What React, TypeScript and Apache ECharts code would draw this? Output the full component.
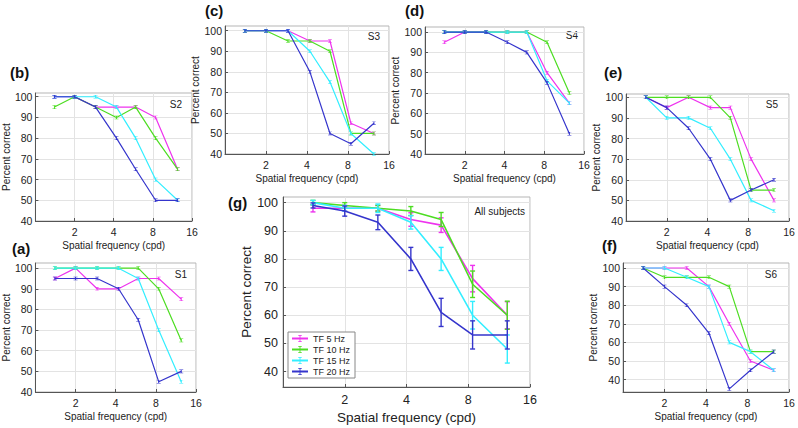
import React, { useEffect, useRef } from 'react';
import * as echarts from 'echarts';

// Spatial frequencies (cpd) of the tested gratings
const SF = [1.4, 2, 2.9, 4.2, 5.9, 8.4, 12.4];
const Y_TICKS = [40, 50, 60, 70, 80, 90, 100];
const TF_NAMES = ['TF 5 Hz', 'TF 10 Hz', 'TF 15 Hz', 'TF 20 Hz'];
const TF_COLORS = ['#ee33ee', '#4ddd22', '#33eeff', '#3535cc'];

// (a) S1
const S1_TF5 = [95, 100, 90, 90, 95, 95, 85];
const S1_TF10 = [100, 100, 100, 100, 100, 90, 65];
const S1_TF15 = [100, 100, 100, 100, 95, 70, 45];
const S1_TF20 = [95, 95, 95, 90, 75, 45, 50];
// (b) S2
const S2_TF5 = [100, 100, 95, 95, 95, 90, 65];
const S2_TF10 = [95, 100, 95, 90, 95, 80, 65];
const S2_TF15 = [100, 100, 100, 95, 80, 60, 50];
const S2_TF20 = [100, 100, 95, 80, 65, 50, 50];
// (c) S3
const S3_TF5 = [100, 100, 100, 95, 95, 55, 50];
const S3_TF10 = [100, 100, 95, 95, 90, 50, 50];
const S3_TF15 = [100, 100, 100, 90, 75, 50, 40];
const S3_TF20 = [100, 100, 100, 80, 50, 45, 55];
// (d) S4
const S4_TF5 = [95, 100, 100, 100, 100, 80, 65];
const S4_TF10 = [100, 100, 100, 100, 100, 95, 70];
const S4_TF15 = [100, 100, 100, 100, 100, 76, 65];
const S4_TF20 = [100, 100, 100, 95, 90, 75, 50];
// (e) S5
const S5_TF5 = [100, 95, 100, 95, 95, 70, 50];
const S5_TF10 = [100, 100, 100, 100, 90, 55, 55];
const S5_TF15 = [100, 90, 90, 85, 70, 50, 45];
const S5_TF20 = [100, 95, 85, 70, 50, 55, 60];
// (f) S6
const S6_TF5 = [100, 100, 100, 90, 70, 50, 45];
const S6_TF10 = [100, 95, 95, 95, 90, 55, 55];
const S6_TF15 = [100, 100, 95, 90, 60, 55, 45];
const S6_TF20 = [100, 90, 80, 65, 35, 45, 55];
// (g) All subjects: means and error-bar half-lengths
const ALL_TF5 = [98, 98, 98, 94, 92, 73, 60];
const ALL_TF10 = [100, 99, 98, 97, 94, 71, 60];
const ALL_TF15 = [100, 98, 98, 93, 80, 60, 48];
const ALL_TF20 = [99, 97, 93, 80, 61, 53, 53];
const ALL_TF5_ERR = [1.3, 1, 1, 2.4, 2.6, 4.7, 4.8];
const ALL_TF10_ERR = [0.8, 1, 1, 1.6, 2.5, 4.7, 5];
const ALL_TF15_ERR = [0.8, 1, 1.5, 2.4, 4.1, 4.9, 5];
const ALL_TF20_ERR = [0.9, 1.8, 2.6, 4.1, 5, 5, 5];

const FONT = '"Liberation Sans", Arial, Helvetica, sans-serif';
const TEXT = '#222';
const I_BEAM = 'path://M0,0 M10,10 M2.5,0 h5 v1.3 h-5 z M4.4,1.3 h1.2 v7.4 h-1.2 z M2.5,8.7 h5 v1.3 h-5 z';

type Panel = {
  letter: string;
  subj: string;
  data: number[][];
  err?: number[][];
  rect: [number, number, number, number];
  y: [number, number];
  letterPos: [number, number];
  subjPos: [number, number];
  big?: boolean;
};

const PANELS: Panel[] = [
  { letter: '(a)', subj: 'S1', data: [S1_TF5, S1_TF10, S1_TF15, S1_TF20], rect: [33, 263, 163, 129], y: [40, 102.5], letterPos: [12, 248], subjPos: [187, 274] },
  { letter: '(b)', subj: 'S2', data: [S2_TF5, S2_TF10, S2_TF15, S2_TF20], rect: [30, 93, 162, 128], y: [40, 101.8], letterPos: [10, 72], subjPos: [182, 104] },
  { letter: '(c)', subj: 'S3', data: [S3_TF5, S3_TF10, S3_TF15, S3_TF20], rect: [225, 26, 164, 128], y: [40, 102.3], letterPos: [205, 10], subjPos: [380, 36] },
  { letter: '(d)', subj: 'S4', data: [S4_TF5, S4_TF10, S4_TF15, S4_TF20], rect: [425, 27, 159, 127], y: [40, 102.5], letterPos: [405, 10], subjPos: [578, 35] },
  { letter: '(e)', subj: 'S5', data: [S5_TF5, S5_TF10, S5_TF15, S5_TF20], rect: [626, 94, 163, 127], y: [40, 101.6], letterPos: [604, 72], subjPos: [778, 104] },
  { letter: '(f)', subj: 'S6', data: [S6_TF5, S6_TF10, S6_TF15, S6_TF20], rect: [623, 263, 166, 129], y: [33.3, 102.7], letterPos: [602, 245], subjPos: [777, 274] },
  { letter: '(g)', subj: 'All subjects', data: [ALL_TF5, ALL_TF10, ALL_TF15, ALL_TF20], err: [ALL_TF5_ERR, ALL_TF10_ERR, ALL_TF15_ERR, ALL_TF20_ERR], rect: [283, 197, 247, 190], y: [34.5, 102], letterPos: [228, 202], subjPos: [525, 211], big: true },
];

function buildOption() {
  const grid: any[] = [];
  const xAxis: any[] = [];
  const yAxis: any[] = [];
  const series: any[] = [];
  const graphic: any[] = [];

  PANELS.forEach((p, i) => {
    const big = !!p.big;
    const tickFont = big ? 12.5 : 10.5;
    const nameFont = big ? 13.5 : 10;
    grid.push({
      left: p.rect[0], top: p.rect[1], width: p.rect[2], height: p.rect[3],
      show: true, borderColor: '#b5b5b5', borderWidth: 1, backgroundColor: 'transparent',
    });
    xAxis.push({
      type: 'log', logBase: 2, min: 1, max: 16, gridIndex: i,
      axisLine: { show: true, onZero: false, lineStyle: { color: '#555', width: 1 } },
      axisTick: { show: true, inside: true, length: 3, lineStyle: { color: '#555' } },
      axisLabel: {
        fontSize: tickFont, color: TEXT, fontFamily: FONT, margin: big ? 6 : 5,
        formatter: (v: number) => (Math.abs(v - 1) < 1e-6 ? '' : String(Math.round(v))),
      },
      splitLine: { show: true, lineStyle: { color: '#e3e3e3', width: 1 } },
      name: 'Spatial frequency (cpd)', nameLocation: 'middle', nameGap: big ? 23 : 19,
      nameTextStyle: { fontSize: nameFont, color: TEXT, fontFamily: FONT },
    });
    yAxis.push({
      type: 'value', min: p.y[0], max: p.y[1], gridIndex: i,
      axisLine: { show: true, onZero: false, lineStyle: { color: '#555', width: 1 } },
      axisTick: { show: true, inside: true, length: 3, lineStyle: { color: '#555' }, customValues: Y_TICKS },
      axisLabel: { fontSize: tickFont, color: TEXT, fontFamily: FONT, margin: big ? 5 : 3, customValues: Y_TICKS },
      splitLine: { show: true, lineStyle: { color: '#e3e3e3', width: 1 } },
      name: 'Percent correct', nameLocation: 'middle', nameGap: big ? 28 : 15,
      nameTextStyle: { fontSize: nameFont, color: TEXT, fontFamily: FONT },
    });

    p.data.forEach((vals, k) => {
      const color = TF_COLORS[k];
      series.push({
        type: 'line',
        name: big ? TF_NAMES[k] : p.subj + ' ' + TF_NAMES[k],
        xAxisIndex: i, yAxisIndex: i,
        data: SF.map((x, j) => [x, vals[j]]),
        color,
        lineStyle: { color, width: big ? 1.6 : 1.2 },
        itemStyle: { color },
        symbol: I_BEAM,
        symbolSize: [8, 3.6],
        showSymbol: !big,
        z: 2 + k,
      });
      if (p.err) {
        const errs = p.err[k];
        series.push({
          type: 'custom',
          name: 'err ' + TF_NAMES[k],
          xAxisIndex: i, yAxisIndex: i,
          coordinateSystem: 'cartesian2d',
          data: SF.map((x, j) => [x, vals[j], errs[j]]),
          encode: { x: 0, y: 1 },
          z: 2 + k,
          renderItem: (_params: any, api: any) => {
            const x = api.value(0);
            const y = api.value(1);
            const e = api.value(2);
            const t = api.coord([x, y + e]);
            const b = api.coord([x, y - e]);
            const w = 2.5;
            const style = { stroke: color, lineWidth: 1.4 };
            return {
              type: 'group',
              children: [
                { type: 'line', shape: { x1: t[0], y1: t[1], x2: b[0], y2: b[1] }, style },
                { type: 'line', shape: { x1: t[0] - w, y1: t[1], x2: t[0] + w, y2: t[1] }, style },
                { type: 'line', shape: { x1: b[0] - w, y1: b[1], x2: b[0] + w, y2: b[1] }, style },
              ],
            };
          },
        });
      }
    });

    graphic.push({
      type: 'text', x: p.letterPos[0], y: p.letterPos[1],
      style: { text: p.letter, font: 'bold 15px ' + FONT, fill: '#111', textAlign: 'left', textVerticalAlign: 'middle', align: 'left', verticalAlign: 'middle' },
    });
    graphic.push({
      type: 'text', x: p.subjPos[0], y: p.subjPos[1],
      style: { text: p.subj, font: '10px ' + FONT, fill: TEXT, textAlign: 'right', textVerticalAlign: 'middle', align: 'right', verticalAlign: 'middle' },
    });
  });

  return {
    animation: false,
    backgroundColor: '#fff',
    grid, xAxis, yAxis, series, graphic,
    legend: {
      data: TF_NAMES,
      orient: 'vertical',
      left: 288, top: 332,
      itemWidth: 16, itemHeight: 9, itemGap: 2,
      padding: [2, 5, 2, 3],
      borderColor: '#888', borderWidth: 1, backgroundColor: '#fff',
      selectedMode: false,
      textStyle: { fontSize: 9, color: TEXT, fontFamily: FONT },
    },
  };
}

export default function App() {
  const ref = useRef<HTMLDivElement>(null);
  useEffect(() => {
    if (!ref.current) return;
    const chart = echarts.init(ref.current, undefined, { renderer: 'svg' });
    chart.setOption(buildOption() as any);
    return () => chart.dispose();
  }, []);
  return (
    <div
      ref={ref}
      style={{ position: 'fixed', left: 0, top: 0, width: 798, height: 428, background: '#fff' }}
    />
  );
}
